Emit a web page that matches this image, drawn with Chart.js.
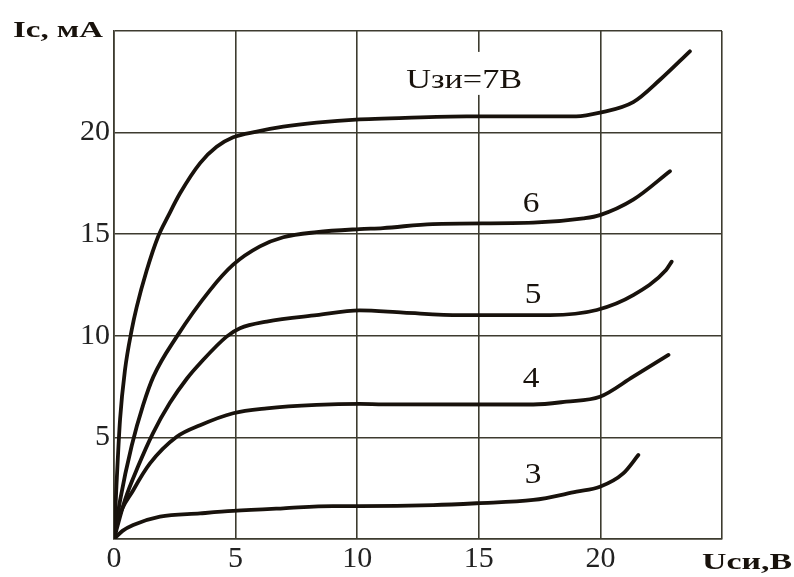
<!DOCTYPE html>
<html>
<head>
<meta charset="utf-8">
<script src="https://cdn.jsdelivr.net/npm/chart.js@4/dist/chart.umd.min.js"></script>
<style>
  html, body { margin: 0; padding: 0; background: #ffffff; }
  canvas { display: block; }
</style>
</head>
<body>
<canvas id="chart" width="794" height="577"></canvas>
<script>
// Output characteristics of a field-effect transistor:
// drain current Ic (mA) against drain-source voltage Uси (V), one curve per gate voltage.

// Uзи = 7 V
const u7 = [0, 0.1, 0.25, 0.45, 0.73, 0.93, 1.34, 1.82, 2.23, 2.71, 3.54, 4.22, 4.9, 5.87, 6.96, 8.33, 10.1, 11.35, 14.5, 19.0, 19.98, 21.35, 22.45, 23.68];
const i7 = [0, 2.6, 5.9, 8.3, 10.3, 11.4, 13.2, 14.9, 15.9, 17.0, 18.5, 19.3, 19.77, 20.05, 20.29, 20.49, 20.65, 20.7, 20.8, 20.8, 20.98, 21.5, 22.6, 24.0];

// Uзи = 6 V
const u6 = [0, 0.25, 0.73, 1.2, 1.62, 2.58, 3.95, 4.9, 6.0, 6.96, 8.33, 10.1, 11.06, 13.1, 17.24, 19.3, 19.98, 21.35, 22.86];
const i6 = [0, 1.9, 4.6, 6.6, 7.99, 9.96, 12.25, 13.5, 14.4, 14.85, 15.1, 15.25, 15.3, 15.5, 15.57, 15.78, 15.94, 16.7, 18.1];

// Uзи = 5 V
const u5 = [0, 0.45, 1.0, 1.6, 2.3, 3.0, 3.54, 4.63, 5.18, 6.28, 8.33, 10.1, 11.9, 14.23, 17.93, 19.85, 21.35, 22.7, 22.93];
const i5 = [0, 1.92, 3.6, 5.2, 6.7, 7.9, 8.65, 9.96, 10.37, 10.7, 11.02, 11.25, 11.14, 11.02, 11.02, 11.27, 12.0, 13.24, 13.65];

// Uзи = 4 V
const u4 = [0, 0.16, 0.79, 1.48, 2.58, 3.54, 4.9, 6.28, 8.33, 10.1, 11.07, 17.24, 18.6, 19.98, 21.35, 22.8];
const i4 = [0, 0.93, 2.4, 3.72, 5.03, 5.6, 6.19, 6.43, 6.6, 6.65, 6.63, 6.62, 6.76, 7.0, 7.99, 9.06];

// Uзи = 3 V
const u3 = [0, 0.35, 0.79, 1.89, 3.54, 4.9, 6.96, 9.0, 10.1, 13.13, 14.91, 17.24, 19.02, 19.98, 20.94, 21.56];
const i3 = [0, 0.4, 0.69, 1.1, 1.26, 1.38, 1.51, 1.62, 1.62, 1.67, 1.76, 1.92, 2.33, 2.57, 3.23, 4.13];

// Tick labels shown on each axis
const xTickLabels = [0, 5, 10, 15, 20];
const yTickLabels = [5, 10, 15, 20];

// Curve captions, anchored in data units (centre x, text baseline y)
const curveLabels = ['Uзи=7В', '6', '5', '4', '3'];
const curveLabelU = [14.4, 17.15, 17.23, 17.15, 17.23];
const curveLabelI = [22.2, 16.1, 11.6, 7.48, 2.76];

const axisTitleY = 'Iс, мА';
const axisTitleX = 'Uси,В';

const INK = '#18120c';
const GRID = '#3d3b2f';
const SERIF = '"Liberation Serif", "Times New Roman", serif';

function toPoints(us, is) {
  return us.map((u, k) => ({ x: u, y: is[k] }));
}

const curves = [[u7, i7], [u6, i6], [u5, i5], [u4, i4], [u3, i3]];

// Draws text squeezed or widened horizontally; returns drawn extent.
function drawText(ctx, text, x, y, font, align, scaleX, targetWidth) {
  ctx.save();
  ctx.font = font;
  ctx.textBaseline = 'alphabetic';
  ctx.textAlign = 'left';
  const natural = ctx.measureText(text).width;
  const sx = targetWidth ? targetWidth / natural : scaleX;
  const w = natural * sx;
  const left = align === 'center' ? x - w / 2 : (align === 'right' ? x - w : x);
  ctx.translate(left, y);
  ctx.scale(sx, 1);
  ctx.fillStyle = INK;
  ctx.fillText(text, 0, 0);
  ctx.restore();
  return { left, w };
}

const captions = {
  id: 'captions',
  beforeDatasetsDraw(chart) {
    const { ctx, scales } = chart;
    curveLabels.forEach((txt, k) => {
      const px = scales.x.getPixelForValue(curveLabelU[k]);
      const py = scales.y.getPixelForValue(curveLabelI[k]);
      if (txt.length > 1) {
        const w = 116;
        ctx.save();
        ctx.fillStyle = '#ffffff';
        ctx.fillRect(px - w / 2 - 4, py - 36, w + 8, 43);
        ctx.restore();
        drawText(ctx, txt, px, py, '27px ' + SERIF, 'center', 1, w);
      } else {
        drawText(ctx, txt, px, py, '29px ' + SERIF, 'center', 1.15);
      }
    });
  },
  afterDraw(chart) {
    const { ctx, chartArea } = chart;
    drawText(ctx, axisTitleY, chartArea.left - 11, chartArea.top + 6,
      'bold 23px ' + SERIF, 'right', 1, 90);
    drawText(ctx, axisTitleX, chartArea.right - 20, chartArea.bottom + 30,
      'bold 23px ' + SERIF, 'left', 1, 90);
  }
};

function build() {
  new Chart(document.getElementById('chart'), {
    type: 'scatter',
    data: {
      datasets: curves.map(([us, is]) => ({
        data: toPoints(us, is),
        showLine: true,
        fill: false,
        borderColor: INK,
        borderWidth: 3.8,
        borderCapStyle: 'round',
        borderJoinStyle: 'round',
        cubicInterpolationMode: 'monotone',
        pointRadius: 0,
        pointHoverRadius: 0
      }))
    },
    options: {
      responsive: false,
      devicePixelRatio: 1,
      animation: false,
      events: [],
      layout: { padding: { left: 0, right: 72, top: 31, bottom: 0 } },
      plugins: {
        legend: { display: false },
        tooltip: { enabled: false },
        title: { display: false }
      },
      scales: {
        x: {
          type: 'linear',
          min: 0,
          max: 25,
          afterFit(scale) { scale.height = 38; },
          ticks: {
            stepSize: 5,
            autoSkip: false,
            maxRotation: 0,
            padding: 2,
            color: '#222222',
            font: { family: SERIF, size: 30 },
            callback: v => xTickLabels.includes(v) ? String(v) : ''
          },
          grid: { color: GRID, lineWidth: 1.6, drawTicks: false },
          border: { color: GRID, width: 1.6 }
        },
        y: {
          type: 'linear',
          min: 0,
          max: 25,
          afterFit(scale) { scale.width = 114; },
          ticks: {
            stepSize: 5,
            autoSkip: false,
            padding: 4,
            color: '#222222',
            font: { family: SERIF, size: 30 },
            callback: v => yTickLabels.includes(v) ? String(v) : ''
          },
          grid: { color: GRID, lineWidth: 1.6, drawTicks: false },
          border: { color: GRID, width: 1.6 }
        }
      }
    },
    plugins: [captions]
  });
}

// make sure the serif face is ready before the canvas text is drawn
Promise.all([
  document.fonts.load('30px "Liberation Serif"', '0123456789Uзи'),
  document.fonts.load('bold 23px "Liberation Serif"', 'Iс, мА')
]).catch(() => {}).then(build);
</script>
</body>
</html>
